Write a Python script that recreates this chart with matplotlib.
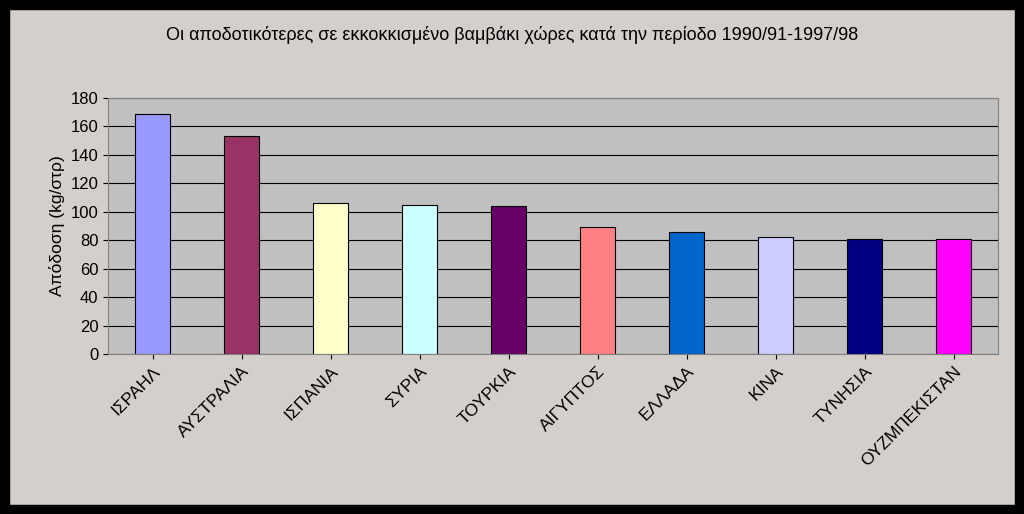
import matplotlib
matplotlib.use("Agg")
import matplotlib.pyplot as plt
from matplotlib.patches import Rectangle

countries = ["ΙΣΡΑΗΛ", "ΑΥΣΤΡΑΛΙΑ", "ΙΣΠΑΝΙΑ", "ΣΥΡΙΑ", "ΤΟΥΡΚΙΑ", "ΑΙΓΥΠΤΟΣ",
             "ΕΛΛΑΔΑ", "ΚΙΝΑ", "ΤΥΝΗΣΙΑ", "ΟΥΖΜΠΕΚΙΣΤΑΝ"]
values = [169, 153, 106, 105, 104, 89, 86, 82, 81, 81]
colors = ["#9999FF", "#993366", "#FFFFCC", "#CCFFFF", "#660066", "#FF8080",
          "#0066CC", "#CCCCFF", "#000080", "#FF00FF"]

plt.rcParams['font.family'] = ['Liberation Sans', 'DejaVu Sans']
fig = plt.figure(figsize=(10.24, 5.14), dpi=100)
fig.patch.set_facecolor("#D4CFCA")
fig.patches.append(Rectangle((0, 0), 1, 1, transform=fig.transFigure, fill=False,
                             edgecolor="black", linewidth=14, zorder=10))
ax = fig.add_axes([108/1024, 1-354/514, 890/1024, 256/514])
ax.set_facecolor("#C0C0C0")
x = range(len(countries))
ax.bar(x, values, width=0.4, color=colors, edgecolor="black", linewidth=0.8, zorder=3)
ax.set_ylim(0, 180)
ax.set_xlim(-0.5, len(countries) - 0.5)
ax.set_yticks(range(0, 181, 20))
ax.yaxis.grid(True, color="black", linewidth=0.8, zorder=0)
ax.set_xticks(list(x))
ax.set_xticklabels(countries, rotation=45, ha="right", rotation_mode="anchor", fontsize=12.5)
ax.tick_params(axis="y", labelsize=12)
ax.set_ylabel("Απόδοση (kg/στρ)", fontsize=12.5)
for s in ax.spines.values():
    s.set_color("#808080")
fig.text(0.5, 1-35/514, "Οι αποδοτικότερες σε εκκοκκισμένο βαμβάκι χώρες κατά την περίοδο 1990/91-1997/98",
         ha="center", va="center", fontsize=13)
fig.savefig("out.png", dpi=100, facecolor=fig.get_facecolor())
